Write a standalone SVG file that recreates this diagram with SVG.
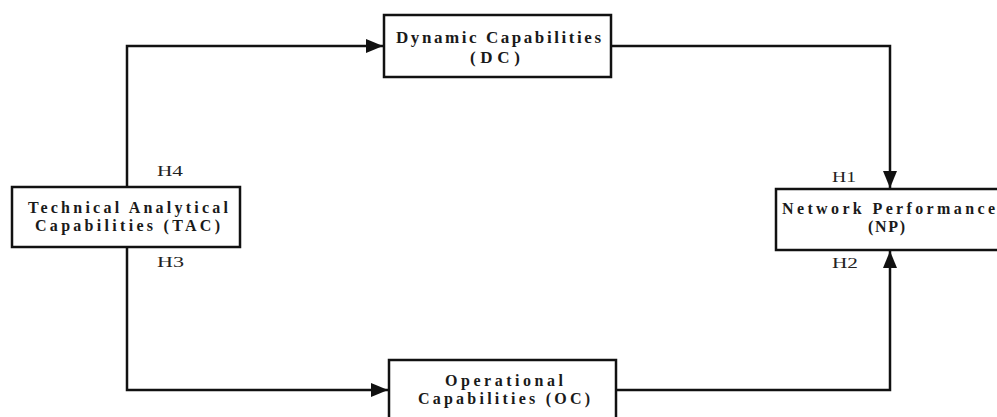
<svg xmlns="http://www.w3.org/2000/svg" width="997" height="417" viewBox="0 0 997 417">
<defs>
<marker id="arr" markerUnits="userSpaceOnUse" markerWidth="18" markerHeight="14" refX="17" refY="7" orient="auto">
<path d="M0,0 L17,7 L0,14 Z" fill="#111"/>
</marker>
<style>
.box{fill:#fff;stroke:#111;stroke-width:2.5}
.lbl{font-family:"Liberation Serif","Times New Roman",serif;font-weight:bold;font-size:16px;fill:#1a1a1a;text-anchor:start}
.big{font-size:17px}
.h{font-family:"Liberation Serif","Times New Roman",serif;font-size:15px;fill:#222}
.con{fill:none;stroke:#111;stroke-width:2.5}
</style>
</defs>
<rect width="997" height="417" fill="#fff"/>
<g id="connectors">
<path class="con" d="M127,187 V46 H383" marker-end="url(#arr)"/>
<path class="con" d="M611,46 H890 V188" marker-end="url(#arr)"/>
<path class="con" d="M127,247 V390 H388" marker-end="url(#arr)"/>
<path class="con" d="M616,390 H890 V251" marker-end="url(#arr)"/>
<text class="h" x="157" y="176" textLength="26" lengthAdjust="spacingAndGlyphs">H4</text>
<text class="h" x="157" y="267" textLength="27" lengthAdjust="spacingAndGlyphs">H3</text>
<text class="h" x="832" y="182" textLength="24" lengthAdjust="spacingAndGlyphs">H1</text>
<text class="h" x="832" y="268" textLength="26" lengthAdjust="spacingAndGlyphs">H2</text>
</g>
<g id="dc">
<rect class="box" x="384" y="15" width="227" height="62"/>
<text class="lbl big" x="396" y="43" textLength="205" lengthAdjust="spacing">Dynamic Capabilities</text>
<text class="lbl big" x="470" y="63" textLength="50" lengthAdjust="spacing">(DC)</text>
</g>
<g id="tac">
<rect class="box" x="12" y="187" width="228" height="60"/>
<text class="lbl" x="28" y="213" textLength="200" lengthAdjust="spacing">Technical Analytical</text>
<text class="lbl" x="35" y="231" textLength="185" lengthAdjust="spacing">Capabilities (TAC)</text>
</g>
<g id="np">
<rect class="box" x="776" y="189" width="240" height="61"/>
<text class="lbl" x="782" y="214" textLength="213" lengthAdjust="spacing">Network Performance</text>
<text class="lbl" x="868" y="232" textLength="37" lengthAdjust="spacing">(NP)</text>
</g>
<g id="oc">
<rect class="box" x="389" y="360" width="227" height="70"/>
<text class="lbl" x="445" y="386" textLength="118" lengthAdjust="spacing">Operational</text>
<text class="lbl" x="418" y="404" textLength="172" lengthAdjust="spacing">Capabilities (OC)</text>
</g>
</svg>
